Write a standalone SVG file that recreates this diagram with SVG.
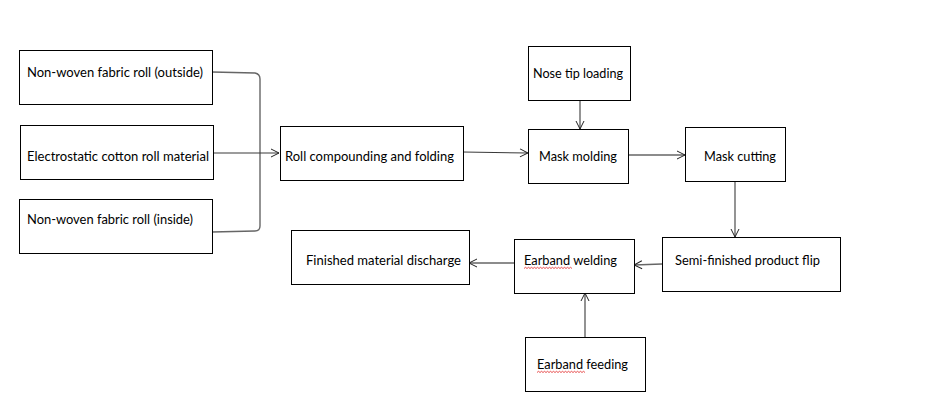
<svg xmlns="http://www.w3.org/2000/svg" width="950" height="400" viewBox="0 0 950 400">
<style>
.box{fill:#fff;stroke:#000;stroke-width:1}
.t{font-family:Lato,"Liberation Sans",sans-serif;font-size:13.6px;fill:#000}
.c{fill:none;stroke:#3a3a3a;stroke-width:1.1}
.g{fill:none;stroke:#666;stroke-width:1.4}
.sq{fill:none;stroke:#e02020;stroke-width:0.8}
</style>
<defs>
<marker id="a" markerWidth="10" markerHeight="10" refX="9" refY="5" orient="auto" markerUnits="userSpaceOnUse">
<path d="M1,1 L9,5 L1,9" fill="none" stroke="#222" stroke-width="1"/>
</marker>
</defs>
<rect width="950" height="400" fill="#fff"/>
<g id="connectors">
<path class="g" d="M212,72 L255,73 Q260,74 260,79 L260,226 Q260,231 255,231 L212,232"/>
<path class="c" d="M213,153 L279,153" marker-end="url(#a)"/>
<path class="c" d="M463,152 L528,153" marker-end="url(#a)"/>
<path class="g" d="M580,100 L580,129" marker-end="url(#a)"/>
<path class="g" d="M628,155 L685,155" marker-end="url(#a)"/>
<path class="g" d="M735,181 L735,237" marker-end="url(#a)"/>
<path class="g" d="M662,264 L634,265" marker-end="url(#a)"/>
<path class="g" d="M514,263 L469,263" marker-end="url(#a)"/>
<path class="c" d="M585,337 L585,293" marker-end="url(#a)"/>
</g>
<g id="n1"><rect class="box" x="19.5" y="50.5" width="193" height="54"/><text class="t" x="27" y="77" textLength="176" lengthAdjust="spacingAndGlyphs">Non-woven fabric roll (outside)</text></g>
<g id="n2"><rect class="box" x="20.5" y="125.5" width="193" height="54"/><text class="t" x="27" y="161" textLength="182" lengthAdjust="spacingAndGlyphs">Electrostatic cotton roll material</text></g>
<g id="n3"><rect class="box" x="19.5" y="199.5" width="193" height="54"/><text class="t" x="27" y="224" textLength="166" lengthAdjust="spacingAndGlyphs">Non-woven fabric roll (inside)</text></g>
<g id="n4"><rect class="box" x="280.5" y="126.5" width="183" height="54"/><text class="t" x="285" y="161" textLength="169" lengthAdjust="spacingAndGlyphs">Roll compounding and folding</text></g>
<g id="n5"><rect class="box" x="528.5" y="46.5" width="102" height="54"/><text class="t" x="533" y="78" textLength="90" lengthAdjust="spacingAndGlyphs">Nose tip loading</text></g>
<g id="n6"><rect class="box" x="528.5" y="129.5" width="100" height="54"/><text class="t" x="539" y="161" textLength="78" lengthAdjust="spacingAndGlyphs">Mask molding</text></g>
<g id="n7"><rect class="box" x="685.5" y="127.5" width="100" height="54"/><text class="t" x="704" y="161" textLength="72" lengthAdjust="spacingAndGlyphs">Mask cutting</text></g>
<g id="n8"><rect class="box" x="662.5" y="237.5" width="178" height="54"/><text class="t" x="675" y="265" textLength="145" lengthAdjust="spacingAndGlyphs">Semi-finished product flip</text></g>
<g id="n9"><rect class="box" x="514.5" y="239.5" width="120" height="54"/><text class="t" x="524" y="265" textLength="93" lengthAdjust="spacingAndGlyphs">Earband welding</text>
<path class="sq" d="M524,268.5 l1.5,-1.2 l1.5,1.2 l1.5,-1.2 l1.5,1.2 l1.5,-1.2 l1.5,1.2 l1.5,-1.2 l1.5,1.2 l1.5,-1.2 l1.5,1.2 l1.5,-1.2 l1.5,1.2 l1.5,-1.2 l1.5,1.2 l1.5,-1.2 l1.5,1.2 l1.5,-1.2 l1.5,1.2 l1.5,-1.2 l1.5,1.2 l1.5,-1.2 l1.5,1.2 l1.5,-1.2 l1.5,1.2 l1.5,-1.2 l1.5,1.2 l1.5,-1.2 l1.5,1.2 l1.5,-1.2 l1.5,1.2 l1.5,-1.2 l1.5,1.2"/></g>
<g id="n10"><rect class="box" x="291.5" y="230.5" width="178" height="54"/><text class="t" x="306" y="265" textLength="155" lengthAdjust="spacingAndGlyphs">Finished material discharge</text></g>
<g id="n11"><rect class="box" x="525.5" y="337.5" width="120" height="54"/><text class="t" x="537" y="369" textLength="91" lengthAdjust="spacingAndGlyphs">Earband feeding</text>
<path class="sq" d="M537,372.5 l1.5,-1.2 l1.5,1.2 l1.5,-1.2 l1.5,1.2 l1.5,-1.2 l1.5,1.2 l1.5,-1.2 l1.5,1.2 l1.5,-1.2 l1.5,1.2 l1.5,-1.2 l1.5,1.2 l1.5,-1.2 l1.5,1.2 l1.5,-1.2 l1.5,1.2 l1.5,-1.2 l1.5,1.2 l1.5,-1.2 l1.5,1.2 l1.5,-1.2 l1.5,1.2 l1.5,-1.2 l1.5,1.2 l1.5,-1.2 l1.5,1.2 l1.5,-1.2 l1.5,1.2 l1.5,-1.2 l1.5,1.2 l1.5,-1.2 l1.5,1.2"/></g>
</svg>
